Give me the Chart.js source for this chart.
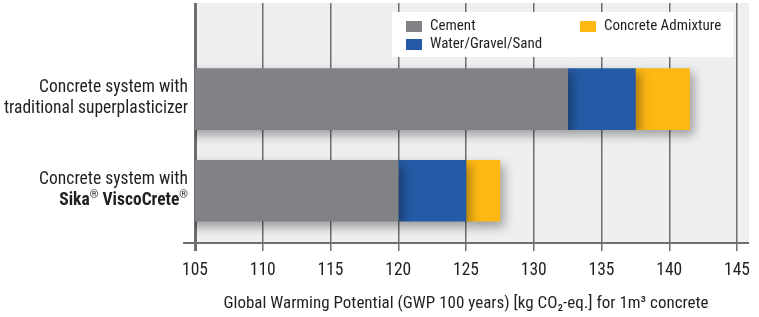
<!DOCTYPE html>
<html><head><meta charset="utf-8">
<script src="https://cdn.jsdelivr.net/npm/chart.js@4.4.1/dist/chart.umd.min.js"></script>
<style>html,body{margin:0;padding:0;background:#fff}#wrap{width:759px;height:317px}</style>
</head><body><div id="wrap"><canvas id="c" width="759" height="317"></canvas></div>
<script>
const categories = [
  ["Concrete system with", "traditional superplasticizer"],
  ["Concrete system with", "Sika® ViscoCrete®"]
];
const categoryBoldLine = [false, true];
const cementValues = [132.5, 120];
const waterValues = [5, 5];
const admixtureValues = [4, 2.5];
const seriesNames = ["Cement", "Water/Gravel/Sand", "Concrete Admixture"];
const seriesColors = ["#808285", "#255ba6", "#fdb813"];
const xTicks = [105, 110, 115, 120, 125, 130, 135, 140, 145];
const xTitle = "Global Warming Potential (GWP 100 years) [kg CO\u2082-eq.] for 1m\u00b3 concrete";

const FONT = "'Liberation Sans Narrow', 'Roboto Condensed', Roboto, sans-serif";
const GRID = "#6d6e71";

function pts(vals){ return vals.map((v,i)=>({x:v, y:i})); }

const bgPlugin = {
  id:'bg',
  beforeDraw(chart){
    const {ctx, chartArea:a} = chart;
    ctx.save();
    ctx.fillStyle = '#eeeff1';
    ctx.fillRect(a.left, a.top, a.right - a.left + 12, a.bottom - a.top);
    ctx.restore();
  },
  beforeDatasetsDraw(chart){
    const ctx = chart.ctx;
    ctx.save();
    ctx.shadowColor = 'rgba(0,0,0,0.35)';
    ctx.shadowBlur = 10;
    ctx.shadowOffsetX = 4;
    ctx.shadowOffsetY = 5;
  },
  afterDatasetsDraw(chart){
    chart.ctx.restore();
  },
  afterDraw(chart){
    const {ctx, chartArea:a, scales} = chart;
    ctx.save();
    ctx.strokeStyle = GRID; ctx.lineWidth = 2;
    ctx.beginPath(); ctx.moveTo(a.left - 12, a.bottom); ctx.lineTo(a.right + 12, a.bottom); ctx.stroke();
    ctx.fillStyle = '#231f20';
    ctx.textAlign = 'right'; ctx.textBaseline = 'middle';
    categories.forEach((lines, i) => {
      const yc = scales.y.getPixelForValue(i) - 1;
      lines.forEach((ln, j) => {
        const bold = categoryBoldLine[i] && j === lines.length - 1;
        const y = yc + (j - (lines.length - 1)/2) * 21;
        const x = a.left - 7;
        if (bold) {
          const parts = ln.split(/(®)/).filter(s=>s.length);
          const widths = parts.map(p => {
            ctx.font = p === '®' ? `11px ${FONT}` : `bold 17.5px ${FONT}`;
            return ctx.measureText(p).width;
          });
          const total = widths.reduce((s,w)=>s+w,0);
          let cx = x - total;
          ctx.textAlign = 'left';
          parts.forEach((p,k) => {
            if (p === '®') { ctx.font = `11px ${FONT}`; ctx.fillText(p, cx, y - 5); }
            else { ctx.font = `bold 17.5px ${FONT}`; ctx.fillText(p, cx, y); }
            cx += widths[k];
          });
          ctx.textAlign = 'right';
        } else {
          ctx.font = `17.5px ${FONT}`;
          ctx.fillText(ln, x, y);
        }
      });
    });
    const lx = 392, ly = 12, lw = 341, lh = 45;
    ctx.fillStyle = '#ffffff';
    ctx.fillRect(lx, ly, lw, lh);
    const items = [{x: 406, y: 21}, {x: 406, y: 39}, {x: 580, y: 21}];
    ctx.font = `15px ${FONT}`; ctx.textAlign = 'left'; ctx.textBaseline = 'middle';
    chart.data.datasets.forEach((ds, i) => {
      const it = items[i];
      ctx.fillStyle = ds.backgroundColor;
      ctx.fillRect(it.x, it.y, 16, 11);
      ctx.fillStyle = '#231f20';
      ctx.fillText(ds.label, it.x + 24, it.y + 5.5);
    });
    ctx.restore();
  }
};

new Chart(document.getElementById('c'), {
  type: 'bar',
  data: {
    datasets: [
      {label: seriesNames[0], data: pts(cementValues), backgroundColor: seriesColors[0]},
      {label: seriesNames[1], data: pts(waterValues), backgroundColor: seriesColors[1]},
      {label: seriesNames[2], data: pts(admixtureValues), backgroundColor: seriesColors[2]}
    ]
  },
  options: {
    indexAxis: 'y',
    responsive: false,
    animation: false,
    layout: {padding: {left: 195, right: 19, top: 3, bottom: 0}},
    datasets: {bar: {barThickness: 61, borderWidth: 0}},
    plugins: {legend: {display: false}, tooltip: {enabled: false}},
    scales: {
      x: {
        type: 'linear', stacked: true, min: 105, max: 145,
        afterBuildTicks(s){ s.ticks = xTicks.map(v => ({value: v})); },
        afterFit(s){ s.height = 74; },
        grid: {color: GRID, lineWidth: (c) => c.index === 0 ? 3 : 1.5, tickLength: 8, drawTicks: true, tickColor: GRID},
        border: {display: false},
        ticks: {color: '#231f20', font: {family: FONT, size: 17.5}, padding: 9, maxRotation: 0},
        title: {display: true, text: xTitle, color: '#231f20', font: {family: FONT, size: 17}, padding: {top: 0, bottom: 3}}
      },
      y: {
        type: 'linear', stacked: true, reverse: true, min: -1.05, max: 1.57,
        offset: false, grid: {offset: false},
        display: false
      }
    }
  },
  plugins: [bgPlugin]
});
</script>
</body></html>
